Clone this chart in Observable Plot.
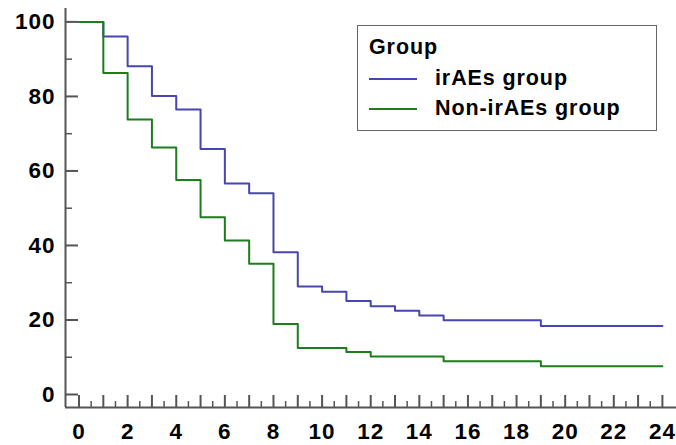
<!DOCTYPE html>
<html>
<head>
<meta charset="utf-8">
<script src="https://cdn.jsdelivr.net/npm/d3@7"></script>
<script src="https://cdn.jsdelivr.net/npm/@observablehq/plot@0.6"></script>
<style>
  html, body { margin: 0; padding: 0; background: #fff; }
  #wrap { position: relative; width: 676px; height: 445px; font-family: "Liberation Sans", Arial, sans-serif; }
  #legend {
    position: absolute; left: 357px; top: 25px; width: 298px; height: 104px;
    border: 1.5px solid #666; background: #fff; box-sizing: content-box;
    font-weight: bold; font-size: 21.5px; letter-spacing: 0.9px; color: #000;
  }
  #legend .title { position: absolute; left: 11px; top: 9px; line-height: 24px; }
  #legend .item { position: absolute; left: 11px; height: 24px; line-height: 24px; white-space: nowrap; }
  #legend .swatch { display: inline-block; width: 48px; height: 2px; vertical-align: middle; margin-right: 18px; }
</style>
</head>
<body>
<div id="wrap"><div id="legend"></div></div>
<script>
// ---- data ----
const groups = ["irAEs group", "Non-irAEs group"];
const groupColors = ["#4646ae", "#1d7d1d"];
const legendTitle = "Group";

const iraesTime = [0, 1, 2, 3, 4, 5, 6, 7, 8, 9, 10, 11, 12, 13, 14, 15, 19, 24];
const iraesSurv = [100, 96.1, 88.1, 80.1, 76.5, 65.9, 56.6, 54.0, 38.2, 29.0, 27.6, 25.1, 23.7, 22.5, 21.2, 19.9, 18.4, 18.4];

const nonTime = [0, 1, 2, 3, 4, 5, 6, 7, 8, 9, 11, 12, 15, 19, 24];
const nonSurv = [100, 86.3, 73.8, 66.3, 57.6, 47.6, 41.3, 35.1, 18.9, 12.5, 11.4, 10.2, 8.9, 7.6, 7.6];

const xLabelTicks = [0, 2, 4, 6, 8, 10, 12, 14, 16, 18, 20, 22, 24];
const xMajorTicks = d3.range(0, 25, 1);
const xMinorTicks = d3.range(0.5, 24, 1);
const yMajorTicks = [0, 20, 40, 60, 80, 100];
const yMinorTicks = [10, 30, 50, 70, 90];

// ---- layout ----
const W = 676, H = 445;
const M = {top: 8, right: 0, bottom: 38, left: 65};
const xDomain = [-0.556, 24.58];
const yDomain = [-3.49, 103.6];
const pxX = (W - M.left - M.right) / (xDomain[1] - xDomain[0]);
const pxY = (H - M.top - M.bottom) / (yDomain[1] - yDomain[0]);
const axisColor = "#555";

const rows = [
  ...iraesTime.map((t, i) => ({time: t, surv: iraesSurv[i], group: groups[0]})),
  ...nonTime.map((t, i) => ({time: t, surv: nonSurv[i], group: groups[1]}))
];

const chart = Plot.plot({
  width: W, height: H,
  marginTop: M.top, marginRight: M.right, marginBottom: M.bottom, marginLeft: M.left,
  style: {fontFamily: '"Liberation Sans", Arial, sans-serif', fontWeight: "bold", fontSize: "22.5px", letterSpacing: "1px", color: "#000", background: "#fff"},
  x: {domain: xDomain, axis: null},
  y: {domain: yDomain, axis: null},
  color: {domain: groups, range: groupColors},
  marks: [
    // axis lines
    Plot.ruleX([xDomain[0]], {stroke: axisColor, strokeWidth: 2}),
    Plot.ruleY([yDomain[0]], {stroke: axisColor, strokeWidth: 2}),
    // y ticks (inward)
    Plot.ruleY(yMajorTicks, {y: d => d, x1: xDomain[0], x2: xDomain[0] + 13 / pxX, stroke: axisColor, strokeWidth: 2}),
    Plot.ruleY(yMinorTicks, {y: d => d, x1: xDomain[0], x2: xDomain[0] + 7 / pxX, stroke: axisColor, strokeWidth: 1.5}),
    // x ticks (inward)
    Plot.ruleX(xMajorTicks, {x: d => d, y1: yDomain[0], y2: yDomain[0] + 12 / pxY, stroke: axisColor, strokeWidth: 2}),
    Plot.ruleX(xMinorTicks, {x: d => d, y1: yDomain[0], y2: yDomain[0] + 6 / pxY, stroke: axisColor, strokeWidth: 1.5}),
    // labels
    Plot.axisY({ticks: yMajorTicks, tickSize: 0, tickPadding: 10, anchor: "left", fill: "#000", label: null}),
    Plot.axisX({ticks: xLabelTicks, tickSize: 0, tickPadding: 16, anchor: "bottom", fill: "#000", label: null}),
    // survival curves (non-irAEs drawn last, on top)
    Plot.line(rows.filter(d => d.group === groups[0]), {x: "time", y: "surv", stroke: "group", strokeWidth: 2, curve: "step-after"}),
    Plot.line(rows.filter(d => d.group === groups[1]), {x: "time", y: "surv", stroke: "group", strokeWidth: 2, curve: "step-after"})
  ]
});

const wrap = document.getElementById("wrap");
wrap.insertBefore(chart, wrap.firstChild);
chart.style.position = "absolute";
chart.style.left = "0px";
chart.style.top = "0px";

// legend
const legend = document.getElementById("legend");
const title = document.createElement("div");
title.className = "title";
title.textContent = legendTitle;
legend.appendChild(title);
groups.forEach((g, i) => {
  const item = document.createElement("div");
  item.className = "item";
  item.style.top = (40 + i * 30) + "px";
  const sw = document.createElement("span");
  sw.className = "swatch";
  sw.style.background = groupColors[i];
  item.appendChild(sw);
  item.appendChild(document.createTextNode(g));
  legend.appendChild(item);
});
</script>
</body>
</html>
